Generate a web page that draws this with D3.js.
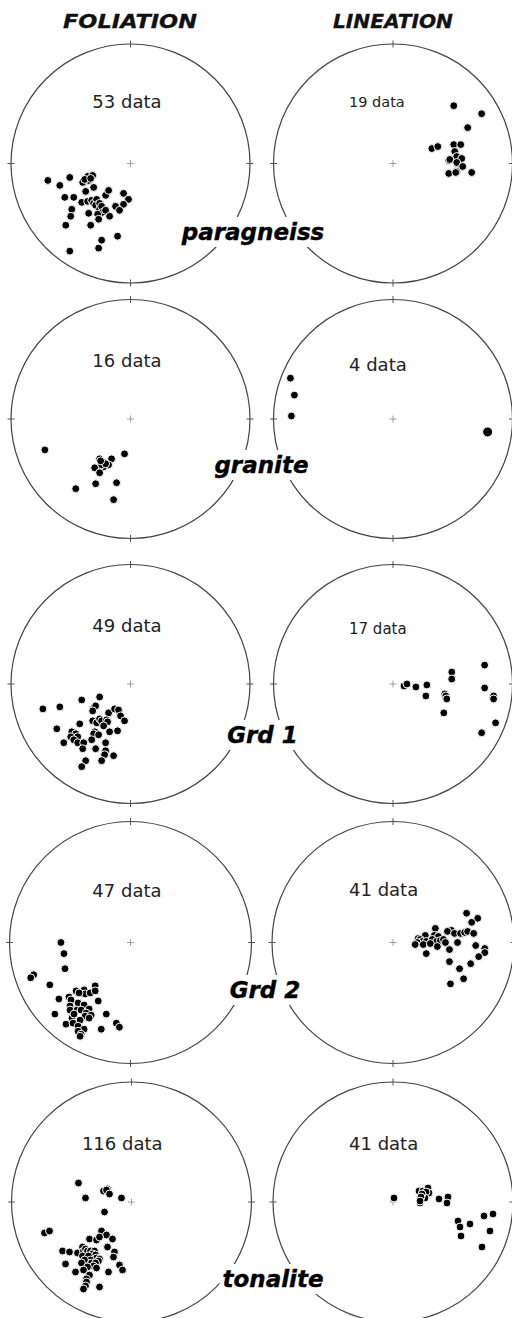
<!DOCTYPE html>
<html>
<head>
<meta charset="utf-8">
<script src="https://cdn.jsdelivr.net/npm/d3@7/dist/d3.min.js"></script>
<style>
  html, body { margin: 0; padding: 0; background: #fff; }
  svg { display: block; }
</style>
</head>
<body>
<svg id="chart" width="512" height="1318"></svg>
<script>
// Lower-hemisphere equal-area nets: foliation poles (left) and lineations (right).
// Point coordinates are net units: east (+x) / north (+y), primitive circle = 120 units.
const NET_UNITS = 120;

const columnTitles = ["FOLIATION", "LINEATION"];
const rocks = ["paragneiss", "granite", "Grd 1", "Grd 2", "tonalite"];
const foliationCounts = [53, 16, 49, 47, 116];
const lineationCounts = [19, 4, 17, 41, 41];

const foliationPoles = [
  // paragneiss
  [[-83,-17],[-71,-22],[-61,-14],[-48,-19],[-43,-13],[-38,-12],[-42,-17],[-46,-16],[-40,-15],
   [-45,-28],[-37,-24],[-66,-34],[-57,-34],[-49,-39],[-43,-38],[-39,-37],[-37,-40],[-34,-36],
   [-35,-42],[-31,-40],[-31,-46],[-29,-43],[-28,-49],[-25,-32],[-22,-27],[-7,-30],[-2,-36],
   [-7,-41],[-15,-43],[-11,-47],[-25,-47],[-21,-53],[-33,-51],[-32,-56],[-42,-50],[-59,-46],
   [-60,-53],[-65,-62],[-40,-62],[-29,-77],[-13,-73],[-32,-85],[-61,-88]],
  // granite
  [[-86,-31],[-6,-35],[-31,-40],[-28,-43],[-19,-40],[-22,-46],[-36,-49],[-27,-48],[-29,-46],
   [-25,-45],[-30,-42],[-31,-54],[-35,-65],[-14,-64],[-55,-70],[-17,-81]],
  // Grd 1
  [[-88,-25],[-71,-23],[-49,-16],[-31,-13],[-37,-24],[-35,-22],[-38,-27],[-22,-29],[-16,-25],
   [-12,-26],[-10,-32],[-6,-37],[-51,-40],[-38,-37],[-34,-39],[-31,-35],[-29,-37],[-24,-36],
   [-23,-38],[-27,-42],[-21,-48],[-13,-47],[-74,-45],[-59,-48],[-55,-50],[-53,-53],[-60,-53],
   [-57,-56],[-67,-59],[-53,-59],[-47,-59],[-48,-65],[-36,-48],[-37,-50],[-32,-51],[-39,-56],
   [-25,-59],[-35,-65],[-25,-67],[-26,-71],[-17,-72],[-45,-77],[-29,-77],[-49,-83]],
  // Grd 2
  [[-69,0],[-66,-11],[-65,-26],[-96,-32],[-99,-35],[-80,-42],[-54,-48],[-46,-47],[-45,-51],
   [-51,-50],[-40,-50],[-35,-43],[-35,-48],[-61,-54],[-71,-56],[-59,-57],[-52,-60],[-46,-62],
   [-41,-66],[-32,-58],[-60,-63],[-60,-67],[-53,-67],[-75,-71],[-58,-75],[-56,-71],[-49,-67],
   [-44,-70],[-45,-73],[-39,-72],[-41,-75],[-50,-77],[-64,-81],[-57,-80],[-52,-83],[-46,-86],
   [-52,-88],[-49,-91],[-50,-93],[-24,-71],[-14,-80],[-11,-84],[-29,-86]],
  // tonalite
  [[-53,19],[-46,4],[-28,11],[-24,13],[-25,12],[-22,8],[-10,4],[-27,-10],[-87,-31],[-82,-29],
   [-30,-29],[-25,-33],[-19,-37],[-42,-37],[-35,-38],[-32,-35],[-24,-45],[-17,-50],[-18,-55],
   [-69,-49],[-62,-50],[-54,-51],[-49,-45],[-48,-49],[-46,-47],[-44,-49],[-41,-49],[-37,-49],
   [-39,-52],[-36,-53],[-49,-54],[-43,-54],[-35,-56],[-32,-57],[-33,-59],[-41,-58],[-47,-58],
   [-40,-61],[-36,-61],[-38,-64],[-50,-61],[-66,-62],[-44,-65],[-48,-68],[-56,-70],[-42,-73],
   [-35,-66],[-23,-70],[-12,-63],[-9,-68],[-45,-77],[-45,-80],[-46,-84],[-48,-87],[-32,-85]]
];

const lineationPoints = [
  // paragneiss
  [[61,58],[89,50],[75,36],[39,15],[45,17],[61,19],[68,19],[62,12],[64,7],[69,5],[56,3],
   [57,4],[64,0],[64,1],[70,-3],[56,-10],[64,-8],[63,-9],[79,-9]],
  // granite
  [[-103,41],[-99,24],[-102,3],[95,-13]],
  // Grd 1
  [[11,-2],[14,0],[23,-3],[34,-1],[33,-12],[59,12],[59,5],[52,-10],[53,-12],[54,-15],[51,-29],
   [92,19],[92,-4],[101,-12],[101,-15],[103,-39],[89,-49]],
  // Grd 2
  [[73,29],[84,24],[78,20],[42,14],[56,12],[58,12],[54,11],[61,9],[67,9],[71,10],[74,11],
   [80,9],[32,7],[25,4],[27,3],[29,1],[33,1],[24,0],[22,-2],[30,-2],[41,7],[45,6],[39,3],
   [43,1],[37,-1],[47,2],[50,3],[52,0],[44,-4],[64,0],[56,-7],[82,-3],[91,-6],[91,-10],
   [85,-14],[33,-11],[56,-19],[66,-26],[77,-21],[70,-36],[57,-41]],
  // tonalite
  [[1,4],[26,11],[30,11],[35,14],[36,9],[33,10],[32,4],[29,8],[28,5],[27,-1],[27,1],[46,3],
   [55,5],[54,-1],[65,-19],[67,-25],[77,-22],[68,-34],[91,-14],[100,-12],[97,-29],[89,-45]]
];

// Page layout
const rowCenterY = [163.5, 419, 684, 942.5, 1202];
const rowRadius = [119.5, 119.5, 119.5, 121, 120];
const leftCenterX = [130.5, 130.5, 130.5, 130.5, 131.5];
const rightCenterX = [393, 393, 393, 393, 393];
const leftCountDy = [-56, -52, -52, -46, -52];
const rightCountDy = [-57, -48, -50, -47, -52];
const rightCountSize = [14.5, 18, 15, 18, 18];
const rockLabelPos = [[253, 240], [261.5, 473], [262.5, 743], [265, 998], [273, 1287]];
const largeMarkers = [[1, 3]]; // [row, index] in lineationPoints drawn larger

const svg = d3.select("#chart");
const netLayer = svg.append("g");
const labelLayer = svg.append("g");

function drawNet(cx, cy, r, points, rowIdx, isLineation) {
  const x = d3.scaleLinear().domain([-NET_UNITS, NET_UNITS]).range([cx - r, cx + r]);
  const y = d3.scaleLinear().domain([-NET_UNITS, NET_UNITS]).range([cy + r, cy - r]);
  const rad = x(NET_UNITS) - x(0);
  const g = netLayer.append("g");

  g.append("circle")
    .attr("cx", x(0)).attr("cy", y(0)).attr("r", rad)
    .attr("fill", "none").attr("stroke", "#444").attr("stroke-width", 1.2);

  // N, E, S, W ticks on the primitive
  [0, 90, 180, 270].forEach(a => {
    const t = a * Math.PI / 180;
    const s = Math.sin(t), c = Math.cos(t);
    g.append("line")
      .attr("x1", x(0) + (rad - 3.5) * s).attr("y1", y(0) - (rad - 3.5) * c)
      .attr("x2", x(0) + (rad + 3.5) * s).attr("y2", y(0) - (rad + 3.5) * c)
      .attr("stroke", "#555").attr("stroke-width", 1);
  });

  // centre cross
  g.append("path")
    .attr("d", `M${x(0) - 3.5},${y(0)}H${x(0) + 3.5}M${x(0)},${y(0) - 3.5}V${y(0) + 3.5}`)
    .attr("stroke", "#8a8a8a").attr("stroke-width", 0.8);

  g.selectAll("circle.pt")
    .data(points)
    .join("circle")
    .attr("class", "pt")
    .attr("cx", d => x(d[0]))
    .attr("cy", d => y(d[1]))
    .attr("r", (d, i) => isLineation && largeMarkers.some(m => m[0] === rowIdx && m[1] === i) ? 5 : 3.95)
    .attr("fill", "#000")
    .attr("stroke", "#fff")
    .attr("stroke-width", 1);
}

rocks.forEach((rock, i) => {
  const cy = rowCenterY[i], r = rowRadius[i];
  drawNet(leftCenterX[i], cy, r, foliationPoles[i], i, false);
  drawNet(rightCenterX[i], cy, r, lineationPoints[i], i, true);

  netLayer.append("text")
    .attr("x", leftCenterX[i] + 31).attr("y", cy + leftCountDy[i])
    .attr("text-anchor", "end")
    .attr("font-family", "DejaVu Sans, Verdana, sans-serif")
    .attr("font-size", 18).attr("fill", "#222")
    .text(`${foliationCounts[i]} data`);

  netLayer.append("text")
    .attr("x", rightCenterX[i] - 44).attr("y", cy + rightCountDy[i])
    .attr("text-anchor", "start")
    .attr("font-family", "DejaVu Sans, Verdana, sans-serif")
    .attr("font-size", rightCountSize[i]).attr("fill", "#222")
    .text(`${lineationCounts[i]} data`);
});

// Rock-type labels on a white ground that interrupts the primitives
rocks.forEach((rock, i) => {
  const g = labelLayer.append("g");
  const bg = g.append("rect").attr("fill", "#fff");
  const t = g.append("text")
    .attr("x", rockLabelPos[i][0]).attr("y", rockLabelPos[i][1])
    .attr("text-anchor", "middle")
    .attr("font-family", "DejaVu Sans, Verdana, sans-serif")
    .attr("font-weight", "bold").attr("font-style", "italic")
    .attr("font-size", 23).attr("fill", "#000")
    .attr("stroke", "#000").attr("stroke-width", 0.4)
    .text(rock);
  const b = t.node().getBBox();
  bg.attr("x", b.x - 3).attr("y", b.y - 2).attr("width", b.width + 6).attr("height", b.height + 4);
});

// Column headings
const titleX = [130, 393], titleW = [134, 120];
columnTitles.forEach((title, i) => {
  svg.append("text")
    .attr("x", titleX[i] - titleW[i] / 2).attr("y", 27.5)
    .attr("textLength", titleW[i]).attr("lengthAdjust", "spacingAndGlyphs")
    .attr("font-family", "DejaVu Sans, Verdana, sans-serif")
    .attr("font-weight", "bold").attr("font-style", "italic")
    .attr("font-size", 19.5).attr("fill", "#111")
    .attr("stroke", "#111").attr("stroke-width", 0.3)
    .text(title);
});
</script>
</body>
</html>
